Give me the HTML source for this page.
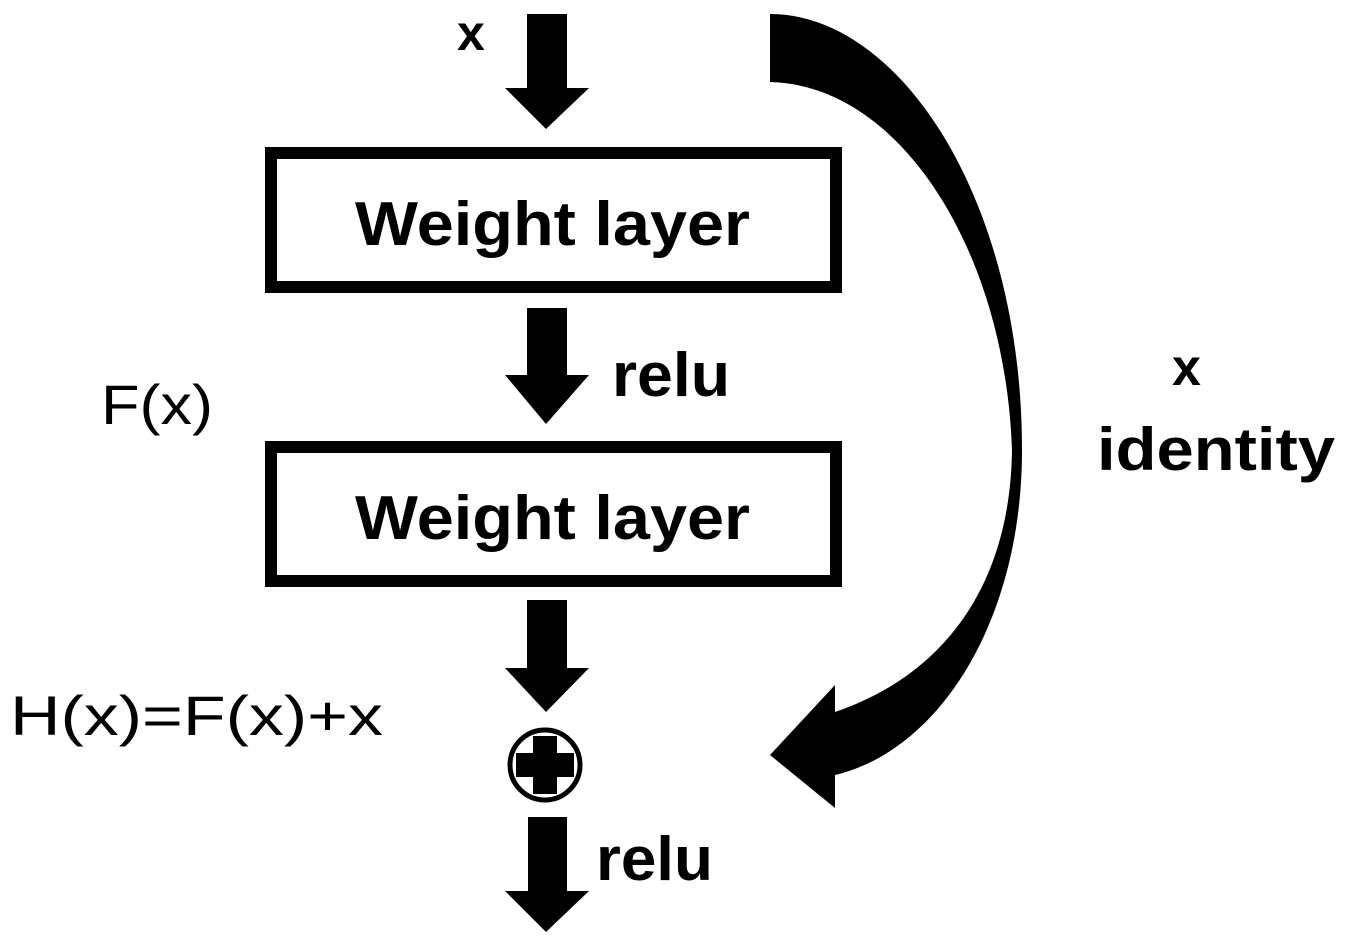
<!DOCTYPE html>
<html><head><meta charset="utf-8"><style>
html,body{margin:0;padding:0;background:#fff;}
svg{display:block;}
text{font-family:"Liberation Sans",sans-serif;fill:#000;}
</style></head><body>
<svg width="1347" height="949" viewBox="0 0 1347 949" xmlns="http://www.w3.org/2000/svg">
<polygon points="527,14 567,14 567,88 589,88 546,129 505,88 527,88"/>
<text x="457" y="50" font-size="50" font-weight="bold" textLength="34">x</text>
<rect x="271" y="153" width="565" height="134" fill="none" stroke="#000" stroke-width="12"/>
<text x="355" y="245" font-size="62" font-weight="bold" textLength="395" lengthAdjust="spacingAndGlyphs">Weight layer</text>
<polygon points="527,308 567,308 567,375 589,375 546,424 505,375 527,375"/>
<text x="612" y="396" font-size="62" font-weight="bold" textLength="118" lengthAdjust="spacingAndGlyphs">relu</text>
<text x="101" y="424" font-size="56" textLength="112" lengthAdjust="spacingAndGlyphs">F(x)</text>
<rect x="271" y="447" width="565" height="134" fill="none" stroke="#000" stroke-width="12"/>
<text x="355" y="539" font-size="62" font-weight="bold" textLength="395" lengthAdjust="spacingAndGlyphs">Weight layer</text>
<polygon points="527,600 567,600 567,668 589,668 546,712 505,668 527,668"/>
<text x="10" y="735" font-size="56" textLength="373" lengthAdjust="spacingAndGlyphs">H(x)=F(x)+x</text>
<circle cx="545" cy="765" r="35" fill="none" stroke="#000" stroke-width="5"/>
<rect x="516" y="753" width="58" height="24"/>
<rect x="533" y="736" width="24" height="58"/>
<polygon points="528,817 567,817 567,891 589,891 546,932 505,891 528,891"/>
<text x="596" y="880" font-size="62" font-weight="bold" textLength="117" lengthAdjust="spacingAndGlyphs">relu</text>
<path d="M770,14 C900,14 1022,200 1022,450 C1022,620 940,750 835,775 L835,808 L770,755 L835,685 L835,712 C930,680 1010,600 1012,450 C1005,250 900,85 770,82 Z"/>
<text x="1172" y="385" font-size="52" font-weight="bold" textLength="35">x</text>
<text x="1097" y="470" font-size="60" font-weight="bold" textLength="238" lengthAdjust="spacingAndGlyphs">identity</text>
</svg>
</body></html>
